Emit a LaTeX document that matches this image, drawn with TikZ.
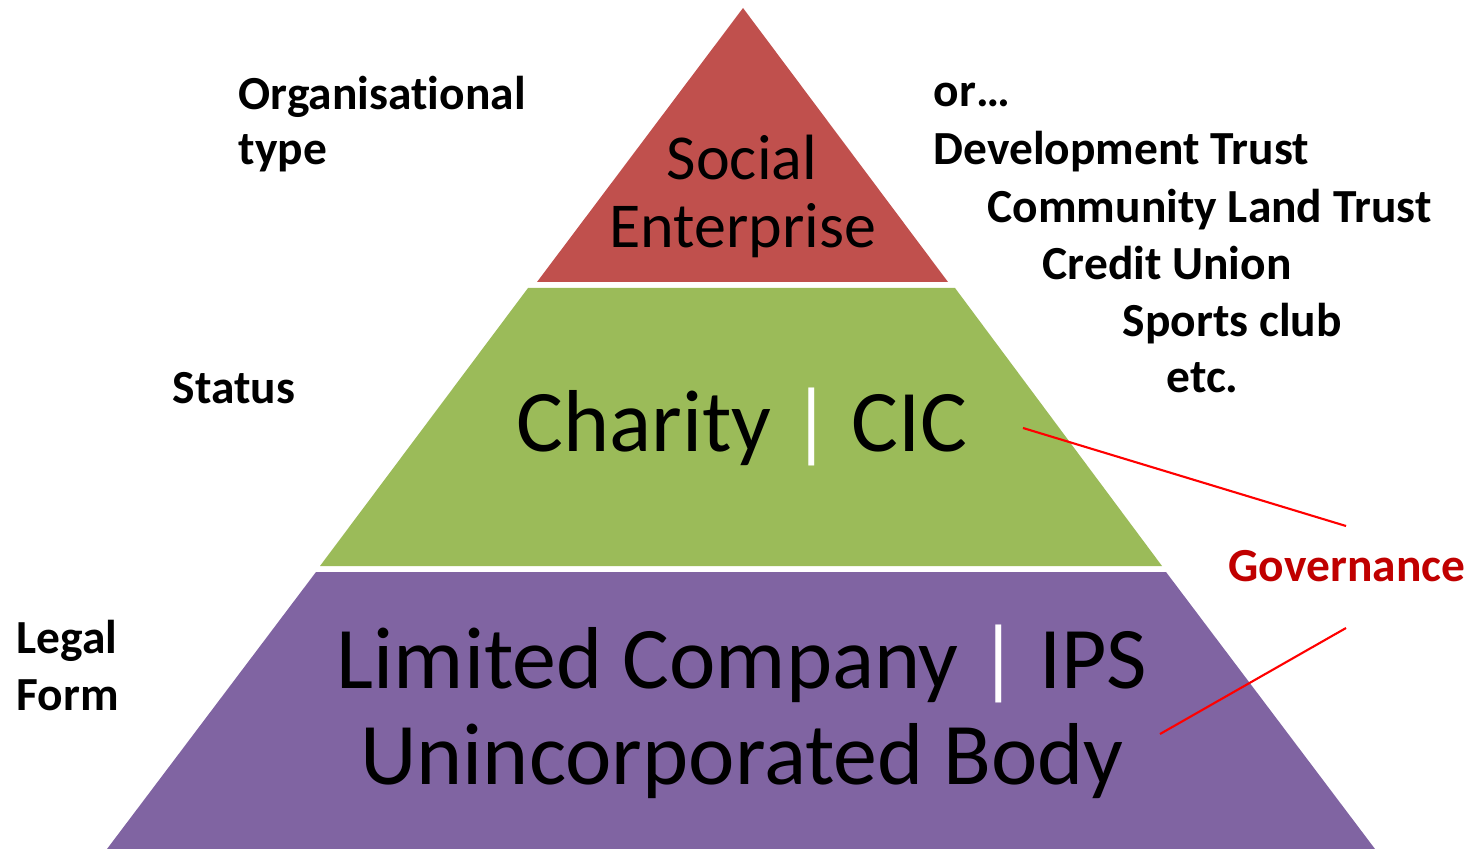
\documentclass[tikz,border=0pt]{standalone}
\usepackage{fontspec}
\setmainfont{Carlito}[Ligatures=NoCommon]
\definecolor{seRed}{HTML}{C0504D}
\definecolor{stGreen}{HTML}{9BBB59}
\definecolor{lfPurple}{HTML}{8064A2}
\definecolor{govRed}{HTML}{C00000}
\tikzset{
  lbl/.style={anchor=base west, inner sep=0pt, font=\fontsize{13.5}{16}\selectfont\bfseries},
  tier/.style={anchor=base, inner sep=0pt},
  govline/.style={draw=red, line width=0.6pt}
}
\begin{document}
\begin{tikzpicture}[x=0.01cm, y=-0.01cm]
	\useasboundingbox (0,0) rectangle (1470,849);
	\fill[seRed] (743,8) -- (948,282) -- (537,282) -- cycle;
	\fill[stGreen] (528,288) -- (955,288) -- (1162,566) -- (320,566) -- cycle;
	\fill[lfPurple] (316,572) -- (1166,572) -- (1375,849) -- (107,849) -- cycle;
	\node[tier, font=\fontsize{18.2}{22}\selectfont] (social) at (742,180) {Social};
	\node[tier, font=\fontsize{18.2}{22}\selectfont] (enterprise) at (743,248) {Enterprise};
	\node[tier, font=\fontsize{25}{30}\selectfont] (charity) at (742,452) {Charity \textcolor{white}{|} CIC};
	\node[tier, font=\fontsize{25}{30}\selectfont] (limited) at (742,688) {Limited Company \textcolor{white}{|} IPS};
	\node[tier, font=\fontsize{25}{30}\selectfont] (unincorp) at (742,784) {Unincorporated Body};
	\node[lbl] (orgtype) at (238,110) {Organisational};
	\node[lbl] (orgtype2) at (238,165) {type};
	\node[lbl] (status) at (172,403) {Status};
	\node[lbl] (legal) at (16,653) {Legal};
	\node[lbl] (legal2) at (16,710) {Form};
	\node[lbl] (or) at (933,107) {or\dots};
	\node[lbl] (devtrust) at (933,165) {Development Trust};
	\node[lbl] (landtrust) at (987,223) {Community Land Trust};
	\node[lbl] (credit) at (1042,280) {Credit Union};
	\node[lbl] (sports) at (1122,337) {Sports club};
	\node[lbl] (etc) at (1166,393) {etc.};
	\node[lbl, text=govRed] (gov) at (1228,581) {Governance};
	\coordinate (cicend) at (1023,428);
	\coordinate (govtop) at (1346,526);
	\coordinate (govbot) at (1346,628);
	\coordinate (bodyend) at (1160,734);
	\draw[govline] (cicend) -- (govtop);
	\draw[govline] (govbot) -- (bodyend);
\end{tikzpicture}
\end{document}
